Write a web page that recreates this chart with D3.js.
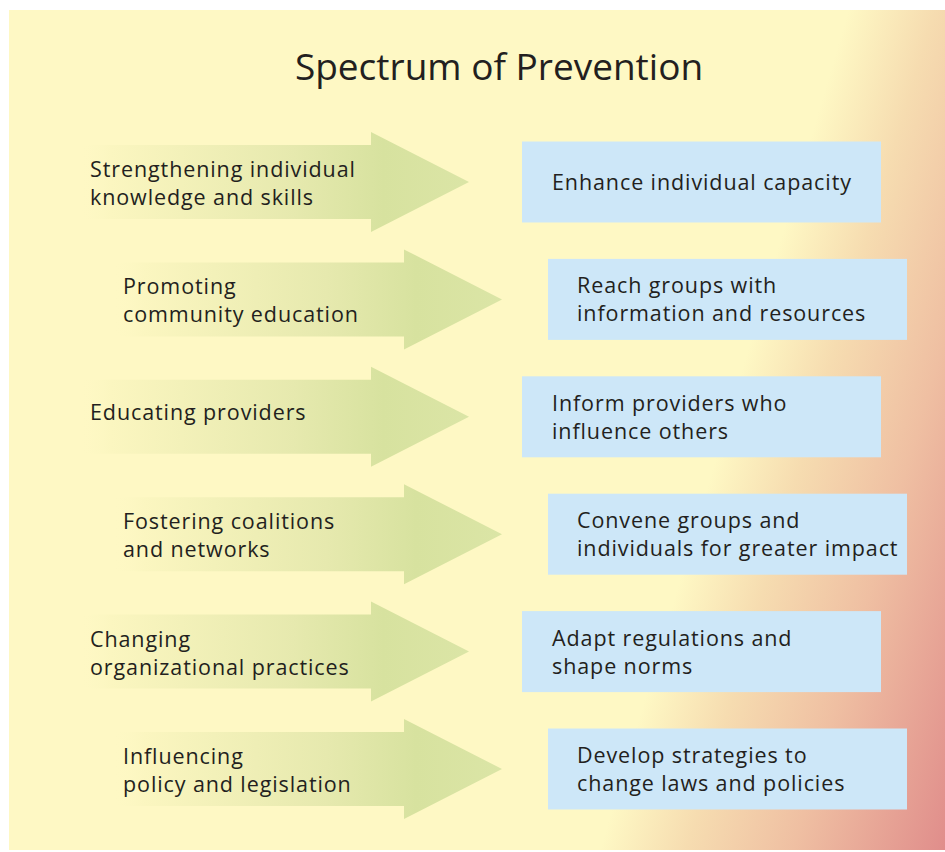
<!DOCTYPE html>
<html>
<head>
<meta charset="utf-8">
<script src="https://cdn.jsdelivr.net/npm/d3@7"></script>
<style>
  html, body { margin: 0; padding: 0; background: #ffffff; }
  svg { display: block; }
  text { font-family: "Open Sans", "Noto Sans", sans-serif; fill: #231f20; }
</style>
</head>
<body>
<svg id="chart" width="945" height="852"></svg>
<script>
// ---- data ----
const title = "Spectrum of Prevention";
const strategies = [
  ["Strengthening individual", "knowledge and skills"],
  ["Promoting", "community education"],
  ["Educating providers"],
  ["Fostering coalitions", "and networks"],
  ["Changing", "organizational practices"],
  ["Influencing", "policy and legislation"]
];
const outcomes = [
  ["Enhance individual capacity"],
  ["Reach groups with", "information and resources"],
  ["Inform providers who", "influence others"],
  ["Convene groups and", "individuals for greater impact"],
  ["Adapt regulations and", "shape norms"],
  ["Develop strategies to", "change laws and policies"]
];
const levels = d3.range(strategies.length);

// ---- layout ----
const W = 945, H = 852;
const svg = d3.select("#chart");
const defs = svg.append("defs");

const y = d3.scalePoint().domain(levels).range([182, 769]);
const indent = i => (i % 2 === 1 ? 33 : 0);

// background gradient (diagonal, yellow to peach/red on right)
const bg = defs.append("linearGradient")
  .attr("id", "bgGrad").attr("gradientUnits", "userSpaceOnUse")
  .attr("x1", 783).attr("y1", 231).attr("x2", 1101).attr("y2", 325);
[[0, "#fef8c4"], [0.25, "#f6dcb0"], [0.56, "#efbfa2"], [1, "#e08d8b"]]
  .forEach(([o, c]) => bg.append("stop").attr("offset", o).attr("stop-color", c));

svg.append("rect").attr("x", 9).attr("y", 10).attr("width", W - 9).attr("height", 840)
  .attr("fill", "url(#bgGrad)");

// arrow gradient
const ag = defs.append("linearGradient").attr("id", "arrowGrad")
  .attr("x1", 0).attr("y1", 0).attr("x2", 1).attr("y2", 0);
[[0, "#fdf8c4", 0.0], [0.08, "#fbf6c0", 1], [0.55, "#e6e9ae", 1], [0.78, "#d7e29f", 1], [1, "#dbe5a6", 1]]
  .forEach(([o, c, a]) => ag.append("stop").attr("offset", o).attr("stop-color", c).attr("stop-opacity", a));

// title
svg.append("text").attr("x", 499).attr("y", 80)
  .attr("text-anchor", "middle").attr("font-size", 37)
  .text(title);

const bodyHalf = 37, headHalf = 50, headLen = 98, bodyStart = 80, headBase = 371;
const arrowPath = i => {
  const x0 = bodyStart + indent(i), xb = headBase + indent(i), xt = xb + headLen, c = y(i);
  const p = d3.path();
  p.moveTo(x0, c - bodyHalf);
  p.lineTo(xb, c - bodyHalf);
  p.lineTo(xb, c - headHalf);
  p.lineTo(xt, c);
  p.lineTo(xb, c + headHalf);
  p.lineTo(xb, c + bodyHalf);
  p.lineTo(x0, c + bodyHalf);
  p.closePath();
  return p.toString();
};

const rows = svg.append("g").selectAll("g.row").data(levels).join("g").attr("class", "row");

rows.append("path").attr("d", arrowPath).attr("fill", "url(#arrowGrad)");

const lineH = 28, fs = 21.5, ls = 0.9;
rows.append("text")
  .attr("font-size", fs).attr("letter-spacing", ls)
  .each(function (i) {
    const lines = strategies[i];
    const base = y(i) + (lines.length === 1 ? 3 : -5);
    d3.select(this).selectAll("tspan").data(lines).join("tspan")
      .attr("x", 90 + indent(i))
      .attr("y", (d, k) => base + k * lineH)
      .text(d => d);
  });

// outcome boxes
const boxX = 522, boxW = 359, boxH = 81;
rows.append("rect")
  .attr("x", i => boxX + indent(i) - (i % 2 ? 7 : 0))
  .attr("y", i => y(i) - boxH / 2)
  .attr("width", boxW).attr("height", boxH)
  .attr("fill", "#cde7f8");

rows.append("text")
  .attr("font-size", fs).attr("letter-spacing", ls)
  .each(function (i) {
    const lines = outcomes[i];
    const base = y(i) + (lines.length === 1 ? 8 : -6);
    d3.select(this).selectAll("tspan").data(lines).join("tspan")
      .attr("x", 552 + indent(i) - (i % 2 ? 8 : 0))
      .attr("y", (d, k) => base + k * lineH)
      .text(d => d);
  });
</script>
</body>
</html>
